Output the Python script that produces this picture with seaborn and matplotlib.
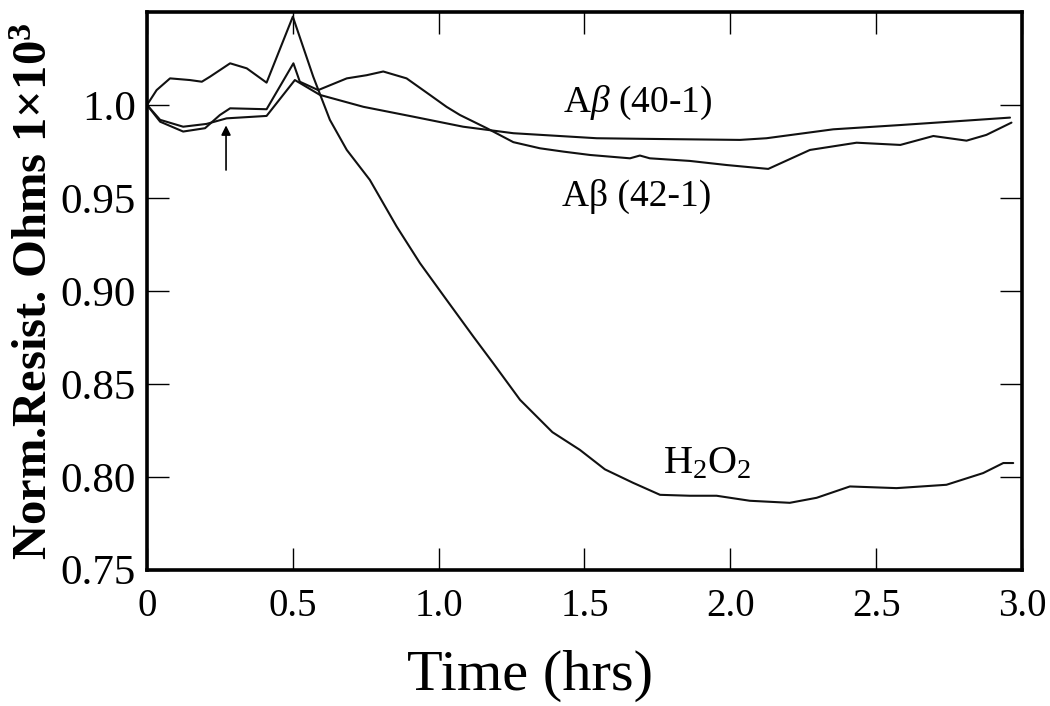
import matplotlib
matplotlib.use("Agg")
import matplotlib.pyplot as plt
import numpy as np
import pandas as pd
import seaborn as sns

# ---------------- data ----------------
h2o2_t = [0.000, 0.033, 0.079, 0.147, 0.188, 0.216, 0.285, 0.342, 0.410, 0.500,
          0.570, 0.627, 0.685, 0.764, 0.856, 0.936, 1.027, 1.119, 1.187, 1.279,
          1.390, 1.484, 1.570, 1.666, 1.759, 1.861, 1.953, 2.067, 2.204, 2.296,
          2.410, 2.570, 2.741, 2.867, 2.936, 2.970]
h2o2_r = [1.000, 1.008, 1.0143, 1.0134, 1.0125, 1.0152, 1.0224, 1.0197, 1.012, 1.0475,
          1.0152, 0.992, 0.9758, 0.9597, 0.9346, 0.9149, 0.8952, 0.8754, 0.8611, 0.8414,
          0.8240, 0.8145, 0.8040, 0.7968, 0.7903, 0.7898, 0.7898, 0.7871, 0.7860, 0.7887,
          0.7948, 0.7939, 0.7957, 0.8020, 0.8074, 0.8074]

ab42_t = [0.000, 0.045, 0.124, 0.199, 0.250, 0.285, 0.410, 0.502, 0.524, 0.587,
          0.685, 0.753, 0.810, 0.890, 0.970, 1.027, 1.073, 1.165, 1.256, 1.347,
          1.428, 1.519, 1.656, 1.690, 1.724, 1.861, 1.987, 2.130, 2.273, 2.433,
          2.583, 2.696, 2.810, 2.878, 2.964]
ab42_r = [1.000, 0.991, 0.9857, 0.9875, 0.9946, 0.9982, 0.9977, 1.0224, 1.0125, 1.0080,
          1.0143, 1.0160, 1.0180, 1.0143, 1.0054, 0.9990, 0.9946, 0.9875, 0.9800, 0.9767,
          0.9749, 0.9731, 0.9713, 0.9728, 0.9713, 0.9699, 0.9677, 0.9656, 0.9758, 0.9797,
          0.9785, 0.9833, 0.9808, 0.9839, 0.9905]

ab40_t = [0.000, 0.045, 0.124, 0.204, 0.273, 0.410, 0.507, 0.593, 0.742, 0.913,
          1.084, 1.256, 1.542, 1.690, 2.033, 2.124, 2.353, 2.583, 2.810, 2.959]
ab40_r = [1.000, 0.992, 0.9883, 0.9898, 0.9928, 0.9941, 1.0134, 1.0054, 0.9990, 0.9937,
          0.9883, 0.9848, 0.9821, 0.9818, 0.9812, 0.9821, 0.9869, 0.9892, 0.9916, 0.9932]

series_names = ["H2O2", "Abeta(42-1)", "Abeta(40-1)"]

x_ticks = [0, 0.5, 1.0, 1.5, 2.0, 2.5, 3.0]
x_ticklabels = ["0", "0.5", "1.0", "1.5", "2.0", "2.5", "3.0"]
y_ticks = [0.75, 0.80, 0.85, 0.90, 0.95, 1.00]
y_ticklabels = ["0.75", "0.80", "0.85", "0.90", "0.95", "1.0"]

arrow_t = 0.271
arrow_from, arrow_to = 0.965, 0.989

df = pd.concat([
    pd.DataFrame({"time": h2o2_t, "res": h2o2_r, "series": series_names[0]}),
    pd.DataFrame({"time": ab42_t, "res": ab42_r, "series": series_names[1]}),
    pd.DataFrame({"time": ab40_t, "res": ab40_r, "series": series_names[2]}),
], ignore_index=True)

# ---------------- style ----------------
sns.set_theme(style="ticks")
plt.rcParams["font.family"] = ["Liberation Serif", "DejaVu Serif"]
plt.rcParams["mathtext.fontset"] = "custom"
plt.rcParams["mathtext.rm"] = "Liberation Serif"
plt.rcParams["mathtext.it"] = "Liberation Serif:italic"
plt.rcParams["mathtext.bf"] = "Liberation Serif:bold"
plt.rcParams["text.color"] = "black"
plt.rcParams["axes.labelcolor"] = "black"
plt.rcParams["xtick.color"] = "black"
plt.rcParams["ytick.color"] = "black"

fig, ax = plt.subplots(figsize=(10.5, 7.06), dpi=100)
fig.subplots_adjust(left=0.14, right=0.9733, bottom=0.193, top=0.983)

line_col = "#111111"
sns.lineplot(data=df, x="time", y="res", hue="series",
             palette={n: line_col for n in series_names},
             estimator=None, sort=False, legend=False, linewidth=1.5, ax=ax)

ax.set_xlim(0, 3.0)
ax.set_ylim(0.75, 1.05)
ax.set_xticks(x_ticks)
ax.set_xticklabels(x_ticklabels)
ax.set_yticks(y_ticks)
ax.set_yticklabels(y_ticklabels)

ax.tick_params(axis="both", which="both", direction="in", top=True, right=True,
               length=16, width=1.0, color="black", labelcolor="black")
ax.tick_params(axis="x", labelsize=28, pad=13)
ax.tick_params(axis="y", labelsize=31, pad=8)

for s in ax.spines.values():
    s.set_visible(True)
    s.set_linewidth(2.6)
    s.set_color("black")

ax.set_xlabel("Time (hrs)", fontsize=42)
ax.xaxis.set_label_coords(0.438, -0.143)
ax.xaxis.label.set_va("top")
ax.set_ylabel(r"Norm.Resist. Ohms 1×10$^\mathbf{3}$", fontsize=35, fontweight="bold")
ax.yaxis.set_label_coords(-0.103, 0.5)

# annotations
ax.text(1.683, 0.9965, r"A$\beta$ (40-1)", fontsize=27, ha="center", va="baseline")
ax.text(1.68, 0.9455, "Aβ (42-1)", fontsize=27, ha="center", va="baseline")
ax.text(1.92, 0.802, r"H$_\mathrm{2}$O$_\mathrm{2}$", fontsize=29, ha="center", va="baseline")

ax.annotate("", xy=(arrow_t, arrow_to), xytext=(arrow_t, arrow_from),
            arrowprops=dict(arrowstyle="-|>", color="black", lw=1.2,
                            mutation_scale=14, shrinkA=0, shrinkB=0))

fig.savefig("out.png", dpi=100)
